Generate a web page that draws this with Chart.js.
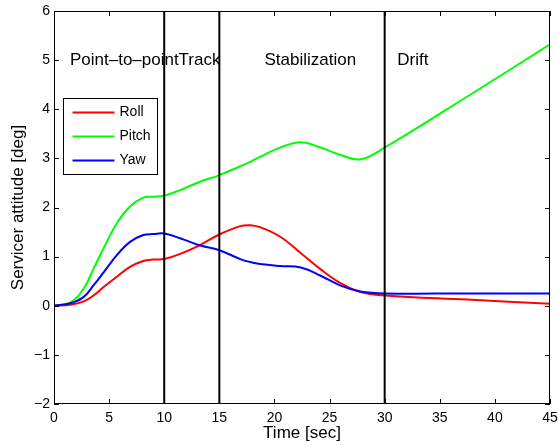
<!DOCTYPE html>
<html>
<head>
<meta charset="utf-8">
<script src="https://cdn.jsdelivr.net/npm/chart.js@4/dist/chart.umd.min.js"></script>
<style>
  html, body { margin: 0; padding: 0; background: #fff; }
  #wrap { width: 558px; height: 446px; }
</style>
</head>
<body>
<div id="wrap"><canvas id="attitude-chart" width="558" height="446"></canvas></div>
<script>
// Values
const time  = [0, 1.5, 2.7, 3.6, 4.5, 5.7, 6.9, 8.1, 9, 10, 11.5, 13.2, 15, 16.9, 17.8, 18.7, 20.5, 22.4, 24.2, 26, 27.8, 30, 37.5, 45];
const roll  = [0, 0.02, 0.09, 0.21, 0.38, 0.59, 0.79, 0.91, 0.94, 0.95, 1.06, 1.23, 1.45, 1.62, 1.64, 1.6, 1.41, 1.07, 0.74, 0.46, 0.28, 0.21, 0.125, 0.04];
const pitch = [0, 0.07, 0.35, 0.76, 1.17, 1.68, 2.02, 2.2, 2.22, 2.24, 2.36, 2.52, 2.66, 2.84, 2.93, 3.03, 3.22, 3.33, 3.22, 3.07, 2.98, 3.22, 4.26, 5.32];
const yaw   = [0, 0.05, 0.18, 0.42, 0.68, 1.03, 1.3, 1.44, 1.46, 1.47, 1.37, 1.23, 1.13, 0.95, 0.89, 0.85, 0.81, 0.78, 0.61, 0.41, 0.29, 0.25, 0.25, 0.25];

const seriesNames  = ['Roll', 'Pitch', 'Yaw'];
const seriesColors = ['#ff0000', '#00ff00', '#0000ff'];

const phaseBounds  = [10, 15, 30];
const phaseNames   = ['Point\u2013to\u2013point', 'Track', 'Stabilization', 'Drift'];
const phaseLabelX  = [1.45, 11.3, 19.1, 31.15];
const phaseLabelY  = 5;

const xTicks = [0, 5, 10, 15, 20, 25, 30, 35, 40, 45];
const yTicks = [-2, -1, 0, 1, 2, 3, 4, 5, 6];

const FONT = '"Liberation Sans", Arial, Helvetica, sans-serif';

function toPoints(xs, ys) {
  return xs.map((x, i) => ({ x: x, y: ys[i] }));
}

function fmtTick(v) {
  return v < 0 ? '\u2212' + Math.abs(v) : String(v);
}

// no extra room for overhanging tick labels, the plot box is fixed
function noScalePadding(s) {
  s.paddingLeft = 0;
  s.paddingRight = 0;
  s.paddingTop = 0;
  s.paddingBottom = 0;
}

const curveSets = [roll, pitch, yaw].map((vals, i) => ({
  label: seriesNames[i],
  data: toPoints(time, vals),
  borderColor: seriesColors[i],
  borderWidth: 2,
  pointRadius: 0,
  tension: 0.4,
  fill: false,
  order: 3 - i
}));

// phase boundaries drawn as vertical black lines through the full y range
const boundarySets = phaseBounds.map(b => ({
  label: 'boundary',
  data: [{ x: b, y: yTicks[0] }, { x: b, y: yTicks[yTicks.length - 1] }],
  borderColor: '#000',
  borderWidth: 2,
  pointRadius: 0,
  fill: false,
  order: 0
}));

// box, inward ticks on all four sides, phase names and the inset legend
const matlabAxes = {
  id: 'matlabAxes',
  afterDraw(chart) {
    const { ctx, chartArea: a, scales } = chart;
    const xs = scales.x, ys = scales.y;
    const tick = 5;

    ctx.save();
    ctx.fillStyle = '#000';
    ctx.font = '17px ' + FONT;
    ctx.textAlign = 'left';
    ctx.textBaseline = 'middle';
    phaseNames.forEach((name, i) => {
      ctx.fillText(name, xs.getPixelForValue(phaseLabelX[i]), ys.getPixelForValue(phaseLabelY));
    });

    ctx.strokeStyle = '#000';
    ctx.lineWidth = 1;
    ctx.strokeRect(a.left + 0.5, a.top + 0.5, a.right - a.left - 1, a.bottom - a.top - 1);
    ctx.beginPath();
    xTicks.forEach(v => {
      const px = Math.round(xs.getPixelForValue(v)) + 0.5;
      ctx.moveTo(px, a.bottom); ctx.lineTo(px, a.bottom - tick);
      ctx.moveTo(px, a.top); ctx.lineTo(px, a.top + tick);
    });
    yTicks.forEach(v => {
      const py = Math.round(ys.getPixelForValue(v)) + 0.5;
      ctx.moveTo(a.left, py); ctx.lineTo(a.left + tick, py);
      ctx.moveTo(a.right, py); ctx.lineTo(a.right - tick, py);
    });
    ctx.stroke();

    // legend box
    const lx = a.left + 9.5, ly = a.top + 87.5, lw = 94, lh = 76;
    ctx.fillStyle = '#fff';
    ctx.fillRect(lx, ly, lw, lh);
    ctx.strokeRect(lx, ly, lw, lh);
    ctx.font = '14px ' + FONT;
    ctx.textBaseline = 'middle';
    curveSets.forEach((ds, i) => {
      const y = ly + 14 + i * 24;
      ctx.strokeStyle = ds.borderColor;
      ctx.lineWidth = 2;
      ctx.beginPath();
      ctx.moveTo(lx + 9, y);
      ctx.lineTo(lx + 51, y);
      ctx.stroke();
      ctx.fillStyle = '#000';
      ctx.fillText(ds.label, lx + 56, y);
    });
    ctx.restore();
  }
};

new Chart(document.getElementById('attitude-chart'), {
  type: 'line',
  data: { datasets: curveSets.concat(boundarySets) },
  options: {
    responsive: false,
    animation: false,
    events: [],
    layout: { padding: { top: 11, right: 8, left: 0, bottom: 0 } },
    plugins: {
      legend: { display: false },
      tooltip: { enabled: false }
    },
    scales: {
      x: {
        type: 'linear',
        min: xTicks[0],
        max: xTicks[xTicks.length - 1],
        afterBuildTicks: s => { s.ticks = xTicks.map(v => ({ value: v })); },
        afterFit: s => { s.height = 42; noScalePadding(s); },
        grid: { display: false, drawTicks: false },
        border: { display: false },
        ticks: {
          color: '#000',
          padding: 6,
          maxRotation: 0,
          font: { family: FONT, size: 14 },
          callback: v => fmtTick(v)
        },
        title: {
          display: true,
          text: 'Time [sec]',
          color: '#000',
          font: { family: FONT, size: 17 },
          padding: { top: 0, bottom: 2 }
        }
      },
      y: {
        type: 'linear',
        min: yTicks[0],
        max: yTicks[yTicks.length - 1],
        afterBuildTicks: s => { s.ticks = yTicks.map(v => ({ value: v })); },
        afterFit: s => { s.width = 54; noScalePadding(s); },
        grid: { display: false, drawTicks: false },
        border: { display: false },
        ticks: {
          color: '#000',
          padding: 4,
          font: { family: FONT, size: 14 },
          callback: v => fmtTick(v)
        },
        title: {
          display: true,
          text: 'Servicer attitude [deg]',
          color: '#000',
          font: { family: FONT, size: 17 },
          padding: { top: 8, bottom: 0 }
        }
      }
    }
  },
  plugins: [matlabAxes]
});
</script>
</body>
</html>
